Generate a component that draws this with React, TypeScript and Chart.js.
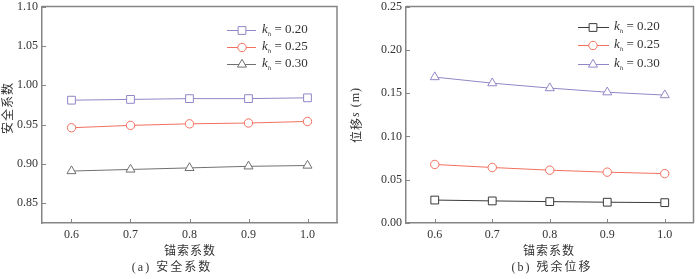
import React, { useEffect, useRef } from 'react';
import { Chart, registerables } from 'chart.js';
Chart.register(...registerables);

// ---- data ----
const anchorCoef = [0.6, 0.7, 0.8, 0.9, 1.0];
const safety020 = [0.981, 0.982, 0.983, 0.983, 0.984];
const safety025 = [0.946, 0.949, 0.951, 0.952, 0.954];
const safety030 = [0.891, 0.893, 0.895, 0.897, 0.898];
const disp020 = [0.0265, 0.0255, 0.0247, 0.024, 0.0235];
const disp025 = [0.0676, 0.0641, 0.061, 0.0587, 0.057];
const disp030 = [0.1685, 0.1615, 0.1558, 0.151, 0.1477];
const khLabels = ['0.20', '0.25', '0.30'];
const xTicks = [0.6, 0.7, 0.8, 0.9, 1.0];
const safetyTicks = [0.85, 0.9, 0.95, 1.0, 1.05, 1.1];
const dispTicks = [0, 0.05, 0.1, 0.15, 0.2, 0.25];

const PURPLE = '#9486c6';
const RED = '#f2705f';
const GRAY = '#707070';
const DARK = '#3a3a3a';
const AXIS = '#858585';
const TEXT = '#333333';
const SERIF = '"Liberation Serif", serif';
const MIXED = '"Liberation Serif", "Noto Sans CJK SC", serif';
const CJK = '"Noto Sans CJK SC", serif';

type Series = { values: number[]; color: string; style: string; radius: number; kh: string };

type PanelCfg = {
  series: Series[];
  yMin: number;
  yMax: number;
  yTicks: number[];
  yWidth: number;
  padTop: number;
  padRight: number;
  yTitle: { x: number; y: number; parts: { t: string; font: string }[] };
  xTitle: { x: number; y: number; t: string };
  caption: { x: number; y: number; t: string };
  legend: { x0: number; x1: number; mx: number; tx: number; ys: number[] };
};

function drawMarker(ctx: CanvasRenderingContext2D, style: string, x: number, y: number, r: number, color: string) {
  ctx.save();
  ctx.strokeStyle = color;
  ctx.fillStyle = '#ffffff';
  ctx.lineWidth = 1;
  ctx.beginPath();
  if (style === 'rect') {
    const s = Math.SQRT1_2 * r;
    ctx.rect(x - s, y - s, 2 * s, 2 * s);
  } else if (style === 'circle') {
    ctx.arc(x, y, r, 0, Math.PI * 2);
  } else {
    let rad = 0;
    ctx.moveTo(x + Math.sin(rad) * r, y - Math.cos(rad) * r);
    rad += (2 * Math.PI) / 3;
    ctx.lineTo(x + Math.sin(rad) * r, y - Math.cos(rad) * r);
    rad += (2 * Math.PI) / 3;
    ctx.lineTo(x + Math.sin(rad) * r, y - Math.cos(rad) * r);
    ctx.closePath();
  }
  ctx.fill();
  ctx.stroke();
  ctx.restore();
}

function makeDecor(cfg: PanelCfg) {
  return {
    id: 'decor',
    afterDraw(chart: any) {
      const { ctx, chartArea: a, scales } = chart;
      ctx.save();
      // box top/right
      ctx.strokeStyle = AXIS;
      ctx.lineWidth = 1.5;
      ctx.beginPath();
      ctx.moveTo(a.left, a.top);
      ctx.lineTo(a.right, a.top);
      ctx.lineTo(a.right, a.bottom);
      ctx.stroke();
      // inward ticks
      ctx.lineWidth = 1;
      ctx.beginPath();
      for (const v of cfg.yTicks) {
        const y = Math.round(scales.y.getPixelForValue(v)) + 0.5;
        ctx.moveTo(a.left, y);
        ctx.lineTo(a.left + 4, y);
      }
      for (const v of xTicks) {
        const x = Math.round(scales.x.getPixelForValue(v)) + 0.5;
        ctx.moveTo(x, a.bottom);
        ctx.lineTo(x, a.bottom - 4);
      }
      ctx.stroke();

      ctx.fillStyle = TEXT;
      // y title (rotated)
      ctx.save();
      ctx.translate(cfg.yTitle.x, cfg.yTitle.y);
      ctx.rotate(-Math.PI / 2);
      ctx.textBaseline = 'middle';
      ctx.textAlign = 'left';
      (ctx as any).letterSpacing = '1px';
      let total = 0;
      const widths: number[] = [];
      for (const p of cfg.yTitle.parts) {
        ctx.font = p.font;
        const w = ctx.measureText(p.t).width;
        widths.push(w);
        total += w;
      }
      let cx = -total / 2;
      cfg.yTitle.parts.forEach((p, i) => {
        ctx.font = p.font;
        ctx.fillText(p.t, cx, 0);
        cx += widths[i];
      });
      ctx.restore();

      // x title and caption
      ctx.save();
      ctx.textAlign = 'center';
      ctx.textBaseline = 'middle';
      (ctx as any).letterSpacing = '1px';
      ctx.font = `12px ${CJK}`;
      ctx.fillText(cfg.xTitle.t, cfg.xTitle.x, cfg.xTitle.y);
      (ctx as any).letterSpacing = '2px';
      ctx.font = `12px ${MIXED}`;
      ctx.fillText(cfg.caption.t, cfg.caption.x, cfg.caption.y);
      ctx.restore();

      // legend
      const L = cfg.legend;
      cfg.series.forEach((s, i) => {
        const y = L.ys[i];
        ctx.strokeStyle = s.color;
        ctx.lineWidth = 1;
        ctx.beginPath();
        ctx.moveTo(L.x0, Math.round(y) + 0.5);
        ctx.lineTo(L.x1, Math.round(y) + 0.5);
        ctx.stroke();
        drawMarker(ctx, s.style, L.mx, Math.round(y) + 0.5, s.radius, s.color);
        ctx.fillStyle = TEXT;
        ctx.textBaseline = 'middle';
        ctx.textAlign = 'left';
        ctx.font = `italic 13px ${SERIF}`;
        ctx.fillText('k', L.tx, y);
        const kw = ctx.measureText('k').width;
        ctx.font = `italic 7px ${SERIF}`;
        ctx.fillText('h', L.tx + kw, y + 4);
        const hw = ctx.measureText('h').width;
        ctx.font = `13px ${SERIF}`;
        ctx.fillText(' = ' + s.kh, L.tx + kw + hw, y);
      });
      ctx.restore();
    },
  };
}

function Panel({ cfg, left }: { cfg: PanelCfg; left: number }) {
  const ref = useRef<HTMLCanvasElement>(null);
  useEffect(() => {
    if (!ref.current) return;
    const chart = new Chart(ref.current, {
      type: 'line',
      data: {
        datasets: cfg.series.map((s) => ({
          label: 'kh=' + s.kh,
          data: anchorCoef.map((x, i) => ({ x, y: s.values[i] })),
          borderColor: s.color,
          borderWidth: 1,
          pointStyle: s.style as any,
          pointRadius: s.radius,
          pointBorderWidth: 1,
          pointBorderColor: s.color,
          pointBackgroundColor: '#ffffff',
          tension: 0,
        })),
      },
      options: {
        responsive: false,
        animation: false,
        devicePixelRatio: 1,
        layout: { padding: { top: cfg.padTop, right: cfg.padRight, left: 0, bottom: 0 } },
        plugins: { legend: { display: false }, tooltip: { enabled: false }, title: { display: false } },
        scales: {
          x: {
            type: 'linear',
            min: 0.55,
            max: 1.05,
            grid: { display: false, drawTicks: false },
            border: { display: true, color: AXIS, width: 1.5 },
            afterBuildTicks: (s: any) => {
              s.ticks = xTicks.map((v) => ({ value: v }));
            },
            afterFit: (s: any) => {
              s.height = 56;
              s.paddingLeft = 0;
              s.paddingRight = 0;
            },
            ticks: {
              padding: 5,
              color: TEXT,
              font: { family: SERIF, size: 12 },
              callback: (v: any) => Number(v).toFixed(1),
              maxRotation: 0,
            },
          },
          y: {
            type: 'linear',
            min: cfg.yMin,
            max: cfg.yMax,
            grid: { display: false, drawTicks: false },
            border: { display: true, color: AXIS, width: 1.5 },
            afterBuildTicks: (s: any) => {
              s.ticks = cfg.yTicks.map((v) => ({ value: v }));
            },
            afterFit: (s: any) => {
              s.width = cfg.yWidth;
              s.paddingTop = 0;
              s.paddingBottom = 0;
            },
            ticks: {
              padding: 4,
              color: TEXT,
              font: { family: SERIF, size: 12 },
              callback: (v: any) => Number(v).toFixed(2),
            },
          },
        },
      },
      plugins: [makeDecor(cfg)],
    });
    return () => chart.destroy();
  }, []);
  return (
    <canvas
      ref={ref}
      width={350}
      height={279}
      style={{ position: 'absolute', left, top: 0, width: 350, height: 279 }}
    />
  );
}

const leftCfg: PanelCfg = {
  series: [
    { values: safety020, color: PURPLE, style: 'rect', radius: 5.5, kh: khLabels[0] },
    { values: safety025, color: RED, style: 'circle', radius: 4.2, kh: khLabels[1] },
    { values: safety030, color: GRAY, style: 'triangle', radius: 5.2, kh: khLabels[2] },
  ],
  yMin: 0.825,
  yMax: 1.1,
  yTicks: safetyTicks,
  yWidth: 42,
  padTop: 4,
  padRight: 13,
  yTitle: { x: 7, y: 108, parts: [{ t: '安全系数', font: `12px ${CJK}` }] },
  xTitle: { x: 190, y: 250, t: '锚索系数' },
  caption: { x: 172, y: 268, t: '(a) 安全系数' },
  legend: { x0: 227, x1: 256, mx: 242, tx: 262, ys: [30, 47, 64] },
};

const rightCfg: PanelCfg = {
  series: [
    { values: disp020, color: DARK, style: 'rect', radius: 5.5, kh: khLabels[0] },
    { values: disp025, color: RED, style: 'circle', radius: 4.2, kh: khLabels[1] },
    { values: disp030, color: PURPLE, style: 'triangle', radius: 5.2, kh: khLabels[2] },
  ],
  yMin: 0,
  yMax: 0.25,
  yTicks: dispTicks,
  yWidth: 56,
  padTop: 5,
  padRight: 1,
  yTitle: {
    x: 6,
    y: 115,
    parts: [
      { t: '位移', font: `12px ${CJK}` },
      { t: 's', font: `italic 12px ${SERIF}` },
      { t: ' (m)', font: `12px ${SERIF}` },
    ],
  },
  xTitle: { x: 199, y: 250, t: '锚索系数' },
  caption: { x: 202, y: 268, t: '(b) 残余位移' },
  legend: { x0: 228, x1: 259, mx: 243, tx: 264, ys: [27, 45, 64] },
};

export default function App() {
  return (
    <div style={{ position: 'fixed', left: 0, top: 0, width: 700, height: 279, background: '#fff' }}>
      <Panel cfg={leftCfg} left={0} />
      <Panel cfg={rightCfg} left={350} />
    </div>
  );
}
